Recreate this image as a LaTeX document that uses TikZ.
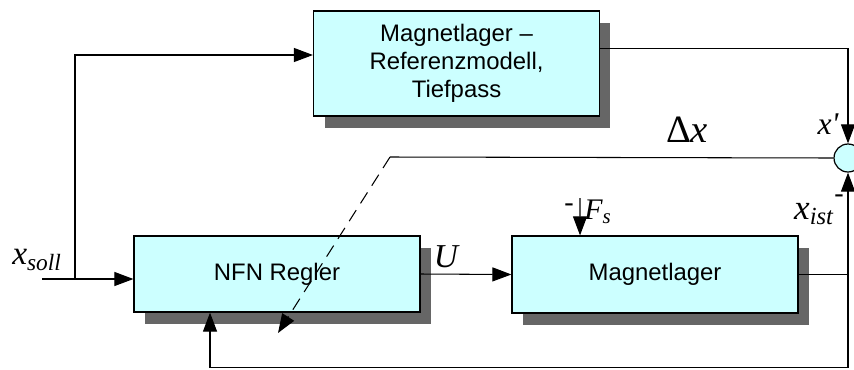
\documentclass[tikz,border=0pt]{standalone}
\usepackage{fontspec}
\setmainfont{Liberation Sans}
\newfontfamily\labfont{Liberation Serif}
\usetikzlibrary{arrows.meta,positioning,calc,shadows}
\definecolor{BoxFill}{HTML}{CCFFFF}
\definecolor{Shade}{HTML}{666666}
\tikzset{
 block/.style={draw=black, line width=0.7pt, fill=BoxFill, minimum width=5.72cm, align=center, inner sep=2pt, font=\fontsize{13.6}{16}\selectfont, drop shadow={shadow xshift=0.22cm, shadow yshift=-0.24cm, fill=Shade, opacity=1}},
 sumnode/.style={circle, draw=black, line width=0.7pt, fill=BoxFill, minimum size=0.56cm, inner sep=0pt},
 arrow/.style={-{Triangle[length=0.38cm,width=0.28cm]}, draw=black, line width=0.6pt},
 line/.style={draw=black, line width=0.6pt},
 lab/.style={font=\labfont\itshape\fontsize{#1}{#1}\selectfont, inner sep=0pt}
}
\begin{document}
\begin{tikzpicture}[x=0.02cm,y=-0.02cm]
\useasboundingbox (0,0) rectangle (854,369);
% blocks
\node[block, minimum height=2.1cm] (ref) at (456.5,63.5) {Magnetlager --\\Referenzmodell,\\Tiefpass};
\node[block, minimum height=1.52cm] (nfn) at (277,274) {NFN Regler};
\node[block, minimum height=1.54cm] (mag) at (655,274.5) {Magnetlager};
\node[sumnode] (sum) at (848,158) {};
% helper points
\coordinate (in) at (42,279);
\coordinate (split) at (75,279);
\coordinate (fsin) at (580,198);
\coordinate (tap) at (sum |- mag.east);
\coordinate (kink) at (390,157);
\coordinate (adapt) at (278,333);
% signal lines
\draw[arrow] (in) -- (nfn.west |- in);
\draw[arrow] (split) |- ([yshift=0.17cm]ref.west);
\draw[arrow] ([yshift=0.3cm]ref.east) -| (sum.north);
\draw[arrow] (nfn.east) -- (mag.west);
\draw[line] (mag.east) -- (tap);
\draw[arrow] (tap) -- (sum.south);
\draw[arrow] (tap) -- ++(0,93) -| ([xshift=-1.34cm]nfn.south);
\draw[arrow] (fsin) -- ([xshift=-1.5cm]mag.north);
\draw[line] (sum.west) -- (kink);
\draw[arrow, dash pattern=on 0.26cm off 0.16cm] (kink) -- (adapt);
% labels
\node[lab=19] (xsoll) at (37,260) {x\textsubscript{soll}};
\node[lab=19] (ulab) at (446,257) {U};
\node[lab=22] (dx) at (687,130) {\upshape Δ\itshape x};
\node[lab=18] (xref) at (828,124) {x'};
\node[lab=20] (xist) at (814,214) {x\textsubscript{ist}};
\node[lab=16] (mist) at (839,199) {\upshape -};
\node[lab=16] (mfs) at (569,208) {\upshape -};
\node[lab=17, anchor=west] (fs) at (584,212) {F\textsubscript{s}};
\end{tikzpicture}
\end{document}
